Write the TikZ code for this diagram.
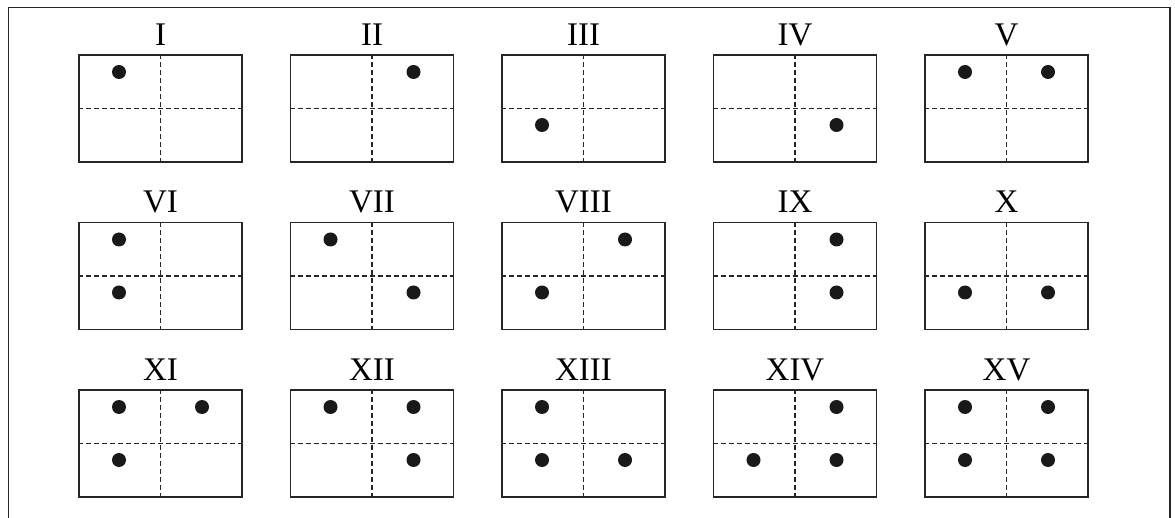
\documentclass[tikz,border=0pt]{standalone}
\usepackage{fontspec}
\setmainfont{Liberation Serif}
\begin{document}
\begin{tikzpicture}[x=1pt,y=-1pt,
  frame/.style={line width=1.5pt,draw=black!85},
  cell/.style={draw=black!85,line width=1.6pt,rectangle,minimum width=163pt,minimum height=107pt,inner sep=0pt},
  divider/.style={line width=1.4pt,draw=black!85,dash pattern=on 5pt off 3pt},
  dot/.style={circle,fill=black!90,minimum size=14pt,inner sep=0pt},
  lbl/.style={font=\fontsize{33}{36}\selectfont,anchor=base,inner sep=0pt},
  qa/.style={xshift=-41.5pt,yshift=36.5pt},
  qb/.style={xshift=41.5pt,yshift=36.5pt},
  qc/.style={xshift=-41.5pt,yshift=-16.5pt},
  qd/.style={xshift=41.5pt,yshift=-16.5pt}]
\useasboundingbox (0,0) rectangle (1175,518);
\coordinate (fbl) at (8.5,518);
\coordinate (ftl) at (8.5,7.5);
\coordinate (ftr) at (1170,7.5);
\coordinate (fbr) at (1170,518);
\draw[frame] (fbl) -- (ftl) -- (ftr) -- (fbr);
\foreach \lab/\qs [count=\k from 0] in {I/a,II/b,III/c,IV/d,V/{a,b},VI/{a,c},VII/{a,d},VIII/{b,c},IX/{b,d},X/{c,d},XI/{a,b,c},XII/{a,b,d},XIII/{a,c,d},XIV/{b,c,d},XV/{a,b,c,d}}{
  \pgfmathsetmacro\cx{160.5+211.5*mod(\k,5)}
  \pgfmathsetmacro\cy{108.5+167.5*div(\k,5)}
  \node[cell] (b\k) at (\cx,\cy) {};
  \draw[divider] (b\k.north) -- (b\k.south);
  \draw[divider] (b\k.west) -- (b\k.east);
  \node[lbl] (t\k) at ([yshift=9pt]b\k.north) {\lab};
  \foreach \q in \qs {
    \edef\qstyle{q\q}
    \node[dot,\qstyle] (d\k\q) at (b\k.center) {};
  }
}
\end{tikzpicture}
\end{document}
